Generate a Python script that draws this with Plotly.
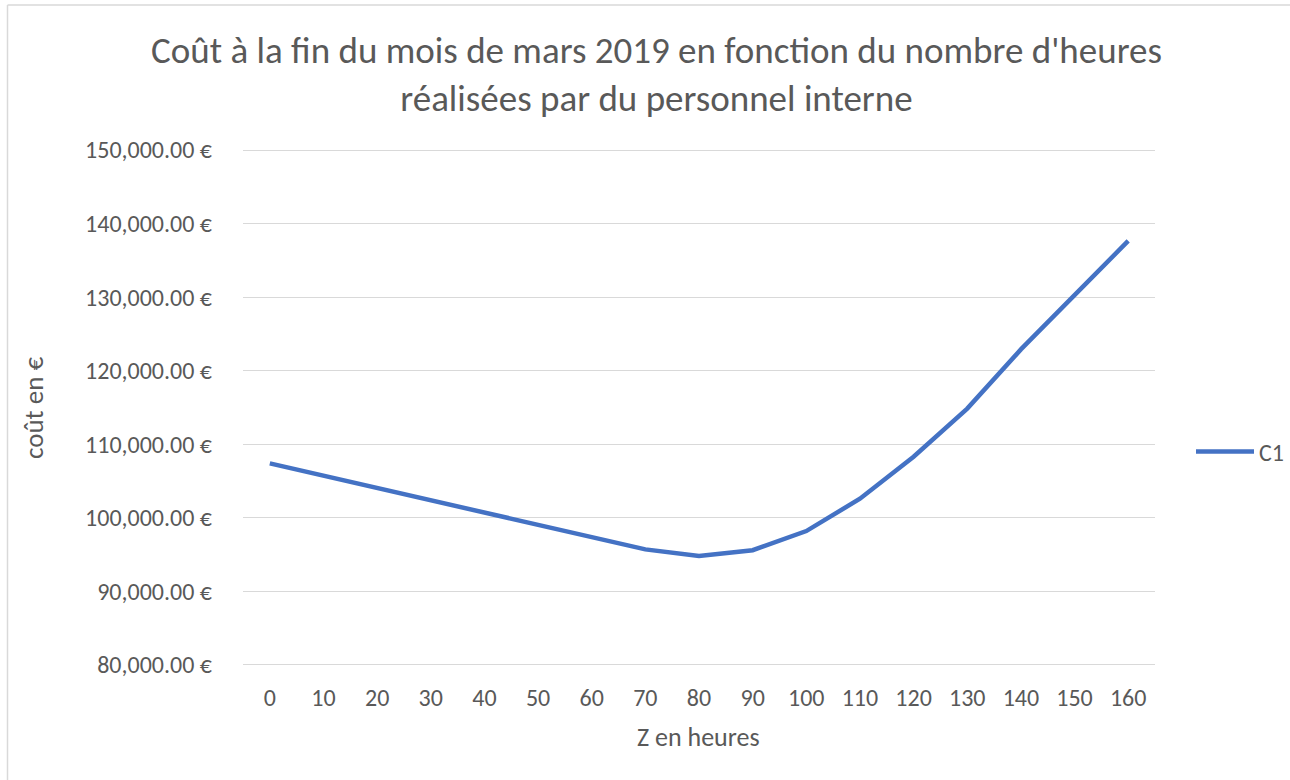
import plotly.graph_objects as go

hours = [0, 10, 20, 30, 40, 50, 60, 70, 80, 90, 100, 110, 120, 130, 140, 150, 160]
cost_c1 = [107400, 105730, 104060, 102390, 100720, 99050, 97380, 95710, 94800,
           95600, 98200, 102600, 108300, 114850, 122900, 130300, 137650]
y_ticks = [80000, 90000, 100000, 110000, 120000, 130000, 140000, 150000]
y_tick_labels = [f"{v:,.2f} €" for v in y_ticks]
series_name = "C1"
title_text = "Coût à la fin du mois de mars 2019 en fonction du nombre d'heures<br>réalisées par du personnel interne"
x_title = "Z en heures"
y_title = "coût en €"

W, H = 1290, 780
L, R, T, B = 243, 135, 148, 113
pw, ph = W - L - R, H - T - B

FONT = "Calibri, Carlito, Lato, sans-serif"
GRAY = "#595959"


def px(x):
    return (x - L) / pw


def py(y):
    return (H - B - y) / ph


fig = go.Figure()
fig.add_trace(go.Scatter(
    x=hours, y=cost_c1, mode="lines", name=series_name,
    line=dict(color="#4472C4", width=4.5),
))

fig.update_layout(
    width=W, height=H,
    margin=dict(l=L, r=R, t=T, b=B, autoexpand=False),
    paper_bgcolor="white", plot_bgcolor="white",
    font=dict(family=FONT, color=GRAY, size=24),
    xaxis=dict(
        range=[-5, 165], tickmode="array", tickvals=hours,
        ticktext=[str(h) for h in hours], showgrid=False, zeroline=False,
        showline=False, ticks="", ticklabelstandoff=14,
        tickfont=dict(size=24, color=GRAY),
    ),
    yaxis=dict(
        range=[79720, 150280], tickmode="array", tickvals=y_ticks,
        ticktext=y_tick_labels, showgrid=True, gridcolor="#D9D9D9", gridwidth=1.3,
        zeroline=False, showline=False, ticks="", ticklabelstandoff=30,
        tickfont=dict(size=24, color=GRAY),
    ),
    showlegend=True,
    legend=dict(
        x=px(1191), y=py(452), xanchor="left", yanchor="middle",
        font=dict(size=24, color=GRAY), bgcolor="rgba(0,0,0,0)",
        itemwidth=58,
    ),
    annotations=[
        dict(text=title_text, xref="paper", yref="paper", x=px(656), y=py(26),
             xanchor="center", yanchor="top", showarrow=False,
             font=dict(size=37, color=GRAY, family=FONT, weight=300)),
        dict(text=x_title, xref="paper", yref="paper", x=px(698), y=py(737),
             xanchor="center", yanchor="middle", showarrow=False,
             font=dict(size=26, color=GRAY, family=FONT)),
        dict(text=y_title, xref="paper", yref="paper", x=px(33), y=py(408),
             xanchor="center", yanchor="middle", showarrow=False, textangle=-90,
             font=dict(size=27, color=GRAY, family=FONT)),
    ],
    shapes=[
        dict(type="line", xref="paper", yref="paper", x0=px(7.5), x1=px(1300),
             y0=py(5), y1=py(5), line=dict(color="#D9D9D9", width=1.5)),
        dict(type="line", xref="paper", yref="paper", x0=px(7.5), x1=px(7.5),
             y0=py(5), y1=py(790), line=dict(color="#D9D9D9", width=1.5)),
    ],
)

fig.write_html("out.html", config={"displayModeBar": False},
               post_script="document.body.style.margin='0';")
